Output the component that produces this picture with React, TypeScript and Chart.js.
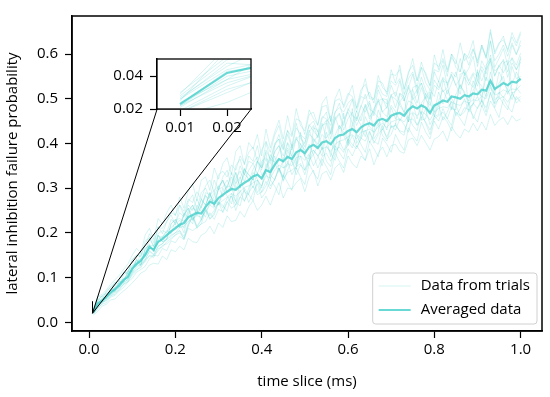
import React, { useEffect, useRef } from "react";
import { Chart, registerables } from "chart.js";
Chart.register(...registerables);

const FONT = "'Open Sans', 'Noto Sans', sans-serif";
const FS = 15;

// x values (time slice, ms)
const timeSlices = [
  0.01, 0.02, 0.03, 0.04, 0.05, 0.06, 0.07, 0.08, 0.09, 0.1,
  0.11, 0.12, 0.13, 0.14, 0.15, 0.16, 0.17, 0.18, 0.19, 0.2,
  0.21, 0.22, 0.23, 0.24, 0.25, 0.26, 0.27, 0.28, 0.29, 0.3,
  0.31, 0.32, 0.33, 0.34, 0.35, 0.36, 0.37, 0.38, 0.39, 0.4,
  0.41, 0.42, 0.43, 0.44, 0.45, 0.46, 0.47, 0.48, 0.49, 0.5,
  0.51, 0.52, 0.53, 0.54, 0.55, 0.56, 0.57, 0.58, 0.59, 0.6,
  0.61, 0.62, 0.63, 0.64, 0.65, 0.66, 0.67, 0.68, 0.69, 0.7,
  0.71, 0.72, 0.73, 0.74, 0.75, 0.76, 0.77, 0.78, 0.79, 0.8,
  0.81, 0.82, 0.83, 0.84, 0.85, 0.86, 0.87, 0.88, 0.89, 0.9,
  0.91, 0.92, 0.93, 0.94, 0.95, 0.96, 0.97, 0.98, 0.99, 1.0,
];

// probabilities in thousandths
const averaged = [
  23, 42, 48, 57, 66, 74, 82, 95, 101, 120,
  130, 138, 150, 168, 162, 180, 186, 195, 203, 210,
  218, 222, 235, 240, 245, 243, 258, 270, 265, 278,
  285, 292, 298, 296, 305, 312, 318, 326, 330, 322,
  340, 336, 352, 365, 360, 370, 365, 380, 385, 378,
  392, 397, 390, 402, 405, 398, 412, 418, 420, 428,
  432, 425, 436, 442, 445, 440, 452, 455, 450, 462,
  466, 468, 462, 475, 483, 478, 485, 480, 468, 485,
  490, 496, 493, 505, 503, 500, 508, 505, 512, 510,
  520, 518, 540, 522, 528, 535, 530, 538, 536, 545,
];

const trial1 = [
  30, 52, 49, 70, 78, 85, 96, 112, 108, 140, 150, 146, 182, 188, 170, 214, 198, 225, 240, 218,
  262, 238, 270, 285, 250, 290, 300, 278, 318, 296, 325, 340, 305, 350, 365, 330, 372, 360, 395, 348,
  402, 360, 395, 420, 388, 430, 395, 445, 410, 400, 442, 428, 415, 455, 470, 422, 468, 490, 455, 472,
  498, 450, 482, 510, 476, 470, 520, 498, 488, 530, 505, 540, 495, 525, 555, 512, 548, 520, 500, 560,
  538, 575, 530, 560, 548, 590, 552, 568, 595, 540, 585, 565, 628, 570, 590, 612, 575, 620, 598, 630,
];
const trial2 = [
  18, 32, 40, 44, 56, 60, 70, 78, 90, 98, 112, 118, 125, 142, 150, 148, 165, 160, 182, 178,
  192, 185, 210, 205, 212, 220, 225, 245, 230, 252, 248, 270, 255, 262, 280, 272, 290, 305, 285, 292,
  315, 298, 320, 345, 318, 335, 340, 348, 355, 330, 362, 375, 345, 370, 378, 360, 385, 392, 380, 410,
  398, 388, 412, 405, 428, 400, 420, 432, 415, 438, 440, 428, 425, 452, 455, 442, 460, 448, 430, 455,
  462, 470, 455, 482, 470, 462, 480, 475, 490, 478, 495, 480, 512, 488, 500, 505, 492, 510, 498, 505,
];
const trial3 = [
  25, 56, 58, 55, 72, 68, 92, 90, 115, 112, 142, 128, 165, 172, 158, 195, 180, 185, 220, 230,
  212, 240, 255, 228, 245, 275, 262, 290, 258, 300, 318, 290, 305, 335, 300, 342, 330, 318, 360, 345,
  380, 318, 395, 410, 345, 350, 398, 355, 425, 372, 350, 435, 430, 385, 448, 462, 378, 395, 468, 400,
  478, 400, 418, 480, 495, 410, 425, 500, 498, 435, 440, 512, 505, 448, 525, 530, 452, 455, 515, 460,
  465, 540, 535, 478, 475, 555, 560, 480, 488, 565, 492, 575, 590, 498, 505, 580, 585, 512, 518, 595,
];
const trial4 = [
  28, 50, 58, 66, 80, 88, 92, 110, 112, 140, 150, 148, 172, 198, 178, 212, 210, 225, 245, 240,
  262, 248, 275, 268, 292, 275, 305, 318, 290, 330, 338, 325, 352, 340, 372, 355, 380, 392, 360, 385,
  405, 380, 418, 440, 400, 428, 415, 455, 450, 420, 465, 470, 440, 482, 485, 450, 495, 500, 485, 512,
  505, 480, 520, 532, 505, 500, 540, 535, 510, 555, 552, 565, 520, 560, 575, 540, 570, 558, 530, 580,
  572, 590, 565, 600, 585, 560, 602, 590, 612, 585, 620, 595, 648, 605, 625, 632, 610, 638, 618, 645,
];
const trial5 = [
  22, 40, 46, 55, 70, 72, 85, 92, 104, 118, 132, 135, 155, 165, 165, 178, 190, 192, 205, 212,
  222, 200, 240, 255, 250, 228, 262, 285, 270, 262, 290, 305, 302, 270, 310, 330, 322, 300, 335, 318,
  345, 365, 358, 335, 365, 390, 370, 350, 390, 372, 398, 375, 395, 420, 410, 370, 418, 440, 425, 405,
  438, 460, 440, 415, 450, 470, 458, 430, 455, 485, 472, 450, 468, 495, 490, 455, 490, 505, 472, 462,
  495, 520, 498, 475, 510, 530, 515, 485, 518, 540, 528, 505, 560, 518, 535, 550, 510, 532, 560, 540,
];
const trial6 = [
  18, 30, 42, 50, 58, 66, 72, 85, 92, 105, 115, 128, 135, 150, 148, 160, 172, 175, 185, 195,
  200, 188, 215, 240, 212, 228, 255, 230, 245, 268, 262, 248, 288, 270, 260, 300, 285, 272, 318, 290,
  305, 330, 318, 345, 315, 340, 362, 330, 352, 340, 375, 350, 368, 392, 360, 348, 395, 380, 365, 405,
  390, 420, 398, 380, 425, 405, 398, 440, 410, 420, 445, 425, 418, 460, 440, 428, 470, 445, 420, 462,
  450, 478, 455, 440, 485, 462, 470, 492, 455, 480, 498, 470, 515, 480, 505, 488, 475, 515, 490, 500,
];
const trial7 = [
  24, 38, 55, 52, 75, 70, 90, 88, 110, 115, 140, 125, 165, 172, 158, 195, 180, 185, 220, 230,
  212, 240, 255, 228, 245, 275, 262, 290, 258, 300, 318, 290, 305, 335, 300, 342, 330, 318, 360, 345,
  365, 340, 382, 395, 358, 400, 372, 410, 398, 385, 420, 412, 398, 440, 445, 410, 452, 465, 430, 455,
  470, 440, 462, 485, 455, 478, 495, 470, 460, 505, 500, 485, 470, 512, 520, 490, 525, 498, 485, 530,
  520, 545, 510, 535, 560, 522, 548, 530, 555, 528, 565, 540, 590, 552, 575, 585, 548, 580, 565, 590,
];
const trial8 = [
  26, 44, 50, 60, 68, 78, 86, 98, 106, 122, 135, 142, 155, 170, 172, 185, 192, 202, 212, 220,
  228, 210, 245, 262, 238, 262, 285, 262, 282, 305, 280, 305, 325, 298, 322, 345, 315, 342, 360, 330,
  340, 375, 358, 382, 400, 365, 390, 415, 388, 402, 430, 402, 418, 445, 412, 428, 460, 432, 448, 470,
  445, 472, 450, 488, 460, 472, 500, 470, 482, 510, 480, 512, 495, 525, 498, 508, 535, 500, 520, 505,
  540, 515, 525, 555, 530, 510, 558, 538, 525, 560, 540, 565, 585, 550, 575, 558, 578, 590, 565, 582,
];
const trial9 = [
  21, 38, 44, 52, 62, 68, 78, 88, 96, 110, 122, 130, 142, 158, 150, 170, 176, 185, 192, 200,
  205, 192, 222, 240, 215, 230, 252, 238, 250, 270, 255, 278, 282, 262, 295, 270, 300, 322, 290, 305,
  335, 305, 318, 345, 322, 360, 330, 348, 372, 340, 360, 385, 372, 350, 395, 378, 362, 405, 385, 395,
  418, 392, 410, 430, 402, 420, 445, 418, 405, 440, 430, 455, 442, 425, 468, 440, 455, 478, 442, 460,
  485, 452, 470, 495, 462, 478, 500, 470, 488, 505, 482, 510, 530, 490, 515, 502, 520, 498, 525, 512,
];
const trial10 = [
  27, 46, 60, 64, 72, 90, 84, 105, 115, 128, 128, 155, 148, 190, 168, 198, 205, 200, 230, 222,
  245, 235, 262, 250, 275, 255, 290, 285, 295, 305, 315, 300, 335, 310, 350, 330, 360, 355, 370, 340,
  385, 365, 400, 410, 385, 420, 390, 435, 420, 410, 440, 450, 425, 460, 455, 440, 470, 480, 470, 490,
  500, 470, 505, 500, 515, 490, 530, 510, 505, 540, 530, 545, 510, 545, 560, 525, 570, 535, 520, 565,
  560, 585, 550, 600, 570, 560, 600, 575, 610, 580, 620, 590, 630, 585, 600, 620, 595, 625, 600, 620,
];
const trial11 = [
  23, 43, 47, 58, 67, 73, 84, 93, 100, 118, 128, 140, 148, 166, 165, 178, 188, 194, 200, 215,
  215, 245, 232, 220, 262, 248, 235, 272, 290, 262, 300, 282, 265, 310, 325, 292, 285, 335, 320, 300,
  355, 330, 372, 345, 325, 385, 360, 342, 400, 370, 365, 410, 392, 372, 425, 400, 385, 440, 418, 395,
  445, 420, 412, 460, 438, 425, 475, 450, 430, 480, 455, 492, 470, 448, 505, 482, 465, 512, 490, 470,
  515, 488, 520, 500, 485, 532, 510, 495, 540, 515, 505, 548, 530, 510, 560, 538, 520, 572, 545, 550,
];
const trial12 = [
  19, 34, 45, 48, 60, 62, 75, 85, 90, 108, 118, 122, 140, 148, 145, 165, 168, 180, 188, 195,
  205, 185, 218, 235, 210, 220, 250, 232, 240, 268, 245, 268, 282, 250, 280, 295, 268, 290, 310, 278,
  292, 318, 305, 285, 330, 312, 295, 345, 325, 308, 355, 335, 320, 365, 348, 330, 378, 360, 345, 388,
  372, 395, 380, 362, 405, 388, 370, 412, 398, 380, 420, 400, 385, 435, 418, 405, 448, 425, 410, 450,
  432, 460, 448, 428, 470, 455, 440, 478, 462, 448, 485, 462, 495, 478, 458, 500, 482, 470, 505, 492,
];
const trial13 = [
  26, 48, 46, 62, 65, 80, 88, 92, 112, 125, 138, 132, 160, 175, 158, 192, 190, 205, 198, 228,
  232, 225, 250, 262, 240, 258, 282, 275, 270, 298, 302, 318, 295, 322, 338, 315, 340, 355, 332, 360,
  368, 355, 380, 395, 372, 402, 385, 410, 418, 392, 425, 440, 412, 438, 452, 420, 455, 468, 440, 478,
  462, 455, 485, 470, 490, 462, 495, 500, 478, 508, 515, 492, 508, 530, 505, 520, 535, 510, 498, 542,
  525, 548, 535, 552, 530, 545, 565, 540, 558, 550, 572, 555, 598, 562, 570, 588, 560, 592, 575, 602,
];
const trial14 = [
  22, 36, 44, 54, 62, 70, 78, 90, 95, 112, 125, 130, 138, 160, 152, 170, 175, 188, 195, 200,
  212, 215, 225, 232, 238, 235, 248, 262, 255, 265, 272, 280, 288, 282, 292, 302, 305, 312, 318, 305,
  328, 322, 340, 352, 345, 355, 350, 368, 372, 362, 378, 385, 372, 388, 392, 382, 398, 405, 408, 415,
  420, 410, 425, 428, 432, 425, 438, 445, 435, 448, 452, 455, 448, 462, 470, 462, 472, 465, 452, 470,
  478, 482, 480, 492, 488, 485, 495, 490, 498, 495, 505, 500, 525, 508, 512, 520, 515, 522, 520, 530,
];
const trial15 = [
  29, 58, 62, 72, 85, 95, 105, 118, 130, 150, 165, 155, 195, 210, 185, 232, 220, 245, 262, 238,
  280, 255, 295, 310, 272, 318, 325, 295, 345, 320, 355, 368, 330, 382, 395, 352, 402, 388, 420, 372,
  432, 390, 425, 452, 410, 462, 418, 478, 440, 428, 475, 455, 442, 490, 505, 448, 500, 522, 480, 505,
  530, 478, 510, 545, 500, 498, 552, 525, 515, 565, 535, 575, 522, 555, 590, 540, 582, 552, 528, 598,
  565, 610, 560, 592, 578, 625, 585, 600, 630, 572, 615, 592, 655, 600, 622, 640, 605, 648, 625, 650,
];
const trial16 = [
  16, 24, 36, 40, 50, 52, 62, 70, 78, 88, 98, 110, 115, 128, 132, 130, 148, 140, 162, 158,
  170, 162, 188, 180, 178, 195, 200, 215, 198, 222, 212, 238, 225, 228, 248, 235, 258, 272, 250, 262,
  282, 262, 288, 312, 278, 300, 298, 312, 322, 292, 325, 340, 305, 332, 338, 318, 345, 355, 335, 372,
  355, 345, 372, 362, 388, 352, 378, 392, 370, 395, 398, 382, 378, 408, 412, 395, 418, 402, 385, 410,
  415, 428, 405, 438, 422, 412, 432, 425, 445, 428, 448, 430, 465, 440, 452, 458, 442, 462, 450, 455,
];
const trials = [
  trial1, trial2, trial3, trial4, trial5, trial6, trial7, trial8,
  trial9, trial10, trial11, trial12, trial13, trial14, trial15, trial16,
];

const xTicks = [0, 0.2, 0.4, 0.6, 0.8, 1.0];
const yTicks = [0, 0.1, 0.2, 0.3, 0.4, 0.5, 0.6];
const insetXTicks = [0.01, 0.02];
const insetYTicks = [0.02, 0.04];
const mainXRange = [-0.0395, 1.0495];
const mainYRange = [-0.0196, 0.685];
const insetXRange = [0.0051, 0.0251];
const insetYRange = [0.02, 0.0505];
const zoomCorner = [0.008, 0.02, 0.047];

const legendLabels = ["Data from trials", "Averaged data"];
const axisTitles = ["time slice (ms)", "lateral inhibition failure probability"];

const TRIAL_COLOR = "rgba(72, 209, 204, 0.26)";
const AVG_COLOR = "rgba(72, 209, 204, 0.82)";

// inset placement, fractions of main axes [left, bottom, width, height]
const INSET = [0.181, 0.704, 0.2, 0.1975];

function toPoints(vals: number[]) {
  return vals.map((v, i) => ({ x: timeSlices[i], y: v / 1000 }));
}

function buildDatasets() {
  const ds: any[] = trials.map((t, i) => ({
    label: i === 0 ? legendLabels[0] : "_trial" + i,
    data: toPoints(t),
    borderColor: TRIAL_COLOR,
    borderWidth: 0.9,
    pointRadius: 0,
    tension: 0,
  }));
  ds.push({
    label: legendLabels[1],
    data: toPoints(averaged),
    borderColor: AVG_COLOR,
    borderWidth: 2.2,
    pointRadius: 0,
    tension: 0,
  });
  return ds;
}

function insetBox(ca: any) {
  const w = ca.right - ca.left;
  const h = ca.bottom - ca.top;
  const left = ca.left + INSET[0] * w;
  const right = left + INSET[2] * w;
  const bottom = ca.bottom - INSET[1] * h;
  const top = bottom - INSET[3] * h;
  return { left, right, top, bottom };
}

const mainPlugin = {
  id: "mainDeco",
  afterDatasetsDraw(chart: any) {
    const ctx = chart.ctx;
    const ca = chart.chartArea;
    const xs = chart.scales.x;
    const ys = chart.scales.y;
    ctx.save();
    const zx = xs.getPixelForValue(zoomCorner[0]);
    const zy0 = ys.getPixelForValue(zoomCorner[1]);
    const zy1 = ys.getPixelForValue(zoomCorner[2]);
    const b = insetBox(ca);
    ctx.strokeStyle = "#000";
    ctx.lineWidth = 1;
    ctx.beginPath();
    ctx.moveTo(zx, zy1);
    ctx.lineTo(zx, zy0);
    ctx.moveTo(zx, zy0);
    ctx.lineTo(b.left, b.bottom);
    ctx.moveTo(zx, zy0);
    ctx.lineTo(b.right, b.bottom);
    ctx.stroke();

    ctx.lineWidth = 1.5;
    ctx.strokeRect(ca.left, ca.top, ca.right - ca.left, ca.bottom - ca.top);

    // legend
    ctx.font = FS + "px " + FONT;
    const tw = Math.max(...legendLabels.map((l) => ctx.measureText(l).width));
    const lw = 6 + 32 + 10 + tw + 7;
    const lh = 51;
    const lx = ca.right - 5 - lw;
    const ly = ca.bottom - 7 - lh;
    ctx.beginPath();
    if (ctx.roundRect) ctx.roundRect(lx, ly, lw, lh, 3);
    else ctx.rect(lx, ly, lw, lh);
    ctx.fillStyle = "rgba(255,255,255,0.8)";
    ctx.fill();
    ctx.strokeStyle = "#d0d0d0";
    ctx.lineWidth = 1;
    ctx.stroke();
    const rows = [ly + 13, ly + 37];
    const styles = [
      [TRIAL_COLOR, 0.9],
      [AVG_COLOR, 2.2],
    ];
    rows.forEach((ry, i) => {
      ctx.strokeStyle = styles[i][0] as string;
      ctx.lineWidth = styles[i][1] as number;
      ctx.beginPath();
      ctx.moveTo(lx + 6, ry);
      ctx.lineTo(lx + 38, ry);
      ctx.stroke();
      ctx.fillStyle = "#000";
      ctx.textBaseline = "middle";
      ctx.textAlign = "left";
      ctx.fillText(legendLabels[i], lx + 48, ry);
    });
    ctx.restore();
  },
};

const insetPlugin = {
  id: "insetDeco",
  beforeDatasetsDraw(chart: any) {
    const ca = chart.chartArea;
    const ctx = chart.ctx;
    ctx.save();
    ctx.fillStyle = "#fff";
    ctx.fillRect(ca.left, ca.top, ca.right - ca.left, ca.bottom - ca.top);
    ctx.restore();
  },
  afterDatasetsDraw(chart: any) {
    const ca = chart.chartArea;
    const ctx = chart.ctx;
    ctx.save();
    ctx.strokeStyle = "#000";
    ctx.lineWidth = 1.3;
    ctx.strokeRect(ca.left, ca.top, ca.right - ca.left, ca.bottom - ca.top);
    ctx.restore();
  },
};

function axisCommon(ticks: number[], digits: number, tickLen: number, pad: number) {
  return {
    afterBuildTicks: (s: any) => {
      s.ticks = ticks.map((v) => ({ value: v }));
    },
    ticks: {
      callback: (v: any) => Number(v).toFixed(digits),
      color: "#000",
      font: { size: FS, family: FONT },
      padding: pad,
      maxRotation: 0,
      autoSkip: false,
    },
    grid: {
      display: true,
      drawOnChartArea: false,
      drawTicks: true,
      tickLength: tickLen,
      tickColor: "#000",
      tickWidth: 1.2,
    },
    border: { display: true, color: "#000", width: 1.5 },
  };
}

export default function App() {
  const mainRef = useRef<HTMLCanvasElement>(null);
  const insetRef = useRef<HTMLCanvasElement>(null);

  useEffect(() => {
    const mc = mainRef.current!;
    const main = new Chart(mc, {
      type: "line",
      data: { datasets: buildDatasets() },
      options: {
        animation: false,
        responsive: false,
        devicePixelRatio: 1,
        layout: { padding: { top: 7, right: 8, left: 0, bottom: 0 } },
        plugins: { legend: { display: false }, tooltip: { enabled: false } },
        scales: {
          x: {
            type: "linear",
            min: mainXRange[0],
            max: mainXRange[1],
            ...axisCommon(xTicks, 1, 7, 3),
            title: {
              display: true,
              text: axisTitles[0],
              color: "#000",
              font: { size: FS, family: FONT },
              padding: { top: 0, bottom: 6 },
            },
            afterFit: (s: any) => {
              s.height = 66;
            },
          },
          y: {
            type: "linear",
            min: mainYRange[0],
            max: mainYRange[1],
            ...axisCommon(yTicks, 1, 7, 7),
            title: {
              display: true,
              text: axisTitles[1],
              color: "#000",
              font: { size: FS, family: FONT },
              padding: { top: 4, bottom: 0 },
            },
            afterFit: (s: any) => {
              s.width = 72;
            },
          },
        },
      } as any,
      plugins: [mainPlugin],
    });

    const b = insetBox(main.chartArea);
    const mL = 60,
      mT = 4,
      mR = 6,
      mB = 30;
    const ic = insetRef.current!;
    const iw = Math.round(b.right - b.left + mL + mR);
    const ih = Math.round(b.bottom - b.top + mT + mB);
    ic.width = iw;
    ic.height = ih;
    ic.style.width = iw + "px";
    ic.style.height = ih + "px";
    ic.style.left = Math.round(b.left - mL) + "px";
    ic.style.top = Math.round(b.top - mT) + "px";

    const inset = new Chart(ic, {
      type: "line",
      data: { datasets: buildDatasets() },
      options: {
        animation: false,
        responsive: false,
        devicePixelRatio: 1,
        layout: { padding: { top: mT, right: mR, left: 0, bottom: 0 } },
        plugins: { legend: { display: false }, tooltip: { enabled: false } },
        scales: {
          x: {
            type: "linear",
            min: insetXRange[0],
            max: insetXRange[1],
            ...axisCommon(insetXTicks, 2, 7, 3),
            afterFit: (s: any) => {
              s.height = mB;
            },
          },
          y: {
            type: "linear",
            min: insetYRange[0],
            max: insetYRange[1],
            ...axisCommon(insetYTicks, 2, 7, 7),
            afterFit: (s: any) => {
              s.width = mL;
            },
          },
        },
      } as any,
      plugins: [insetPlugin],
    });

    return () => {
      inset.destroy();
      main.destroy();
    };
  }, []);

  return (
    <div style={{ position: "fixed", left: 0, top: 0, width: 550, height: 397, background: "#fff" }}>
      <canvas ref={mainRef} width={550} height={397} style={{ position: "absolute", left: 0, top: 0, width: 550, height: 397 }} />
      <canvas ref={insetRef} style={{ position: "absolute" }} />
    </div>
  );
}
